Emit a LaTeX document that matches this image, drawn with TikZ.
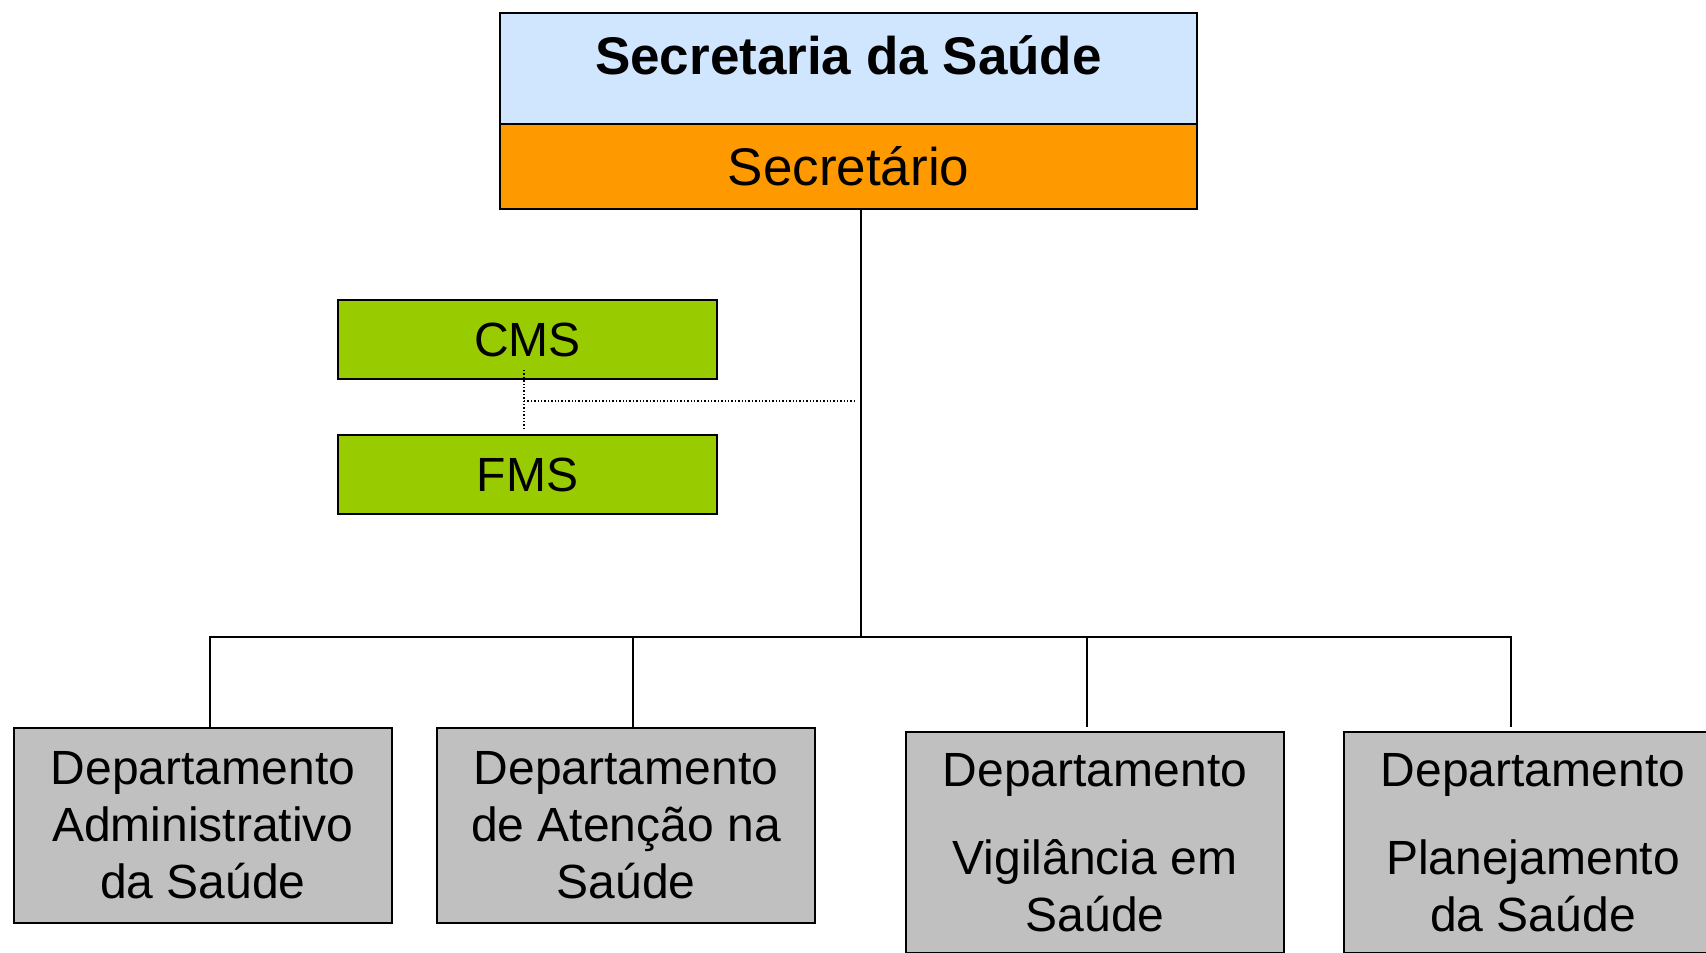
\documentclass[tikz,border=0pt]{standalone}
\usepackage{fontspec}
\setmainfont{Liberation Sans}
\usetikzlibrary{positioning}
\definecolor{azul}{HTML}{D0E6FF}
\definecolor{laranja}{HTML}{FF9900}
\definecolor{verde}{HTML}{99CC00}
\definecolor{cinza}{HTML}{C0C0C0}

\begin{document}
\begin{tikzpicture}[x=0.5pt,y=-0.5pt,on grid,
 caixa/.style={draw,line width=0.8pt,inner sep=0pt,outer sep=0pt,align=center},
 depto/.style={caixa,fill=cinza,minimum width=189pt,font=\fontsize{24}{28.5}\selectfont},
 conselho/.style={caixa,fill=verde,minimum width=189.5pt,minimum height=39.5pt,font=\fontsize{24}{28.5}\selectfont},
 linha/.style={line width=1pt},
 pontilhado/.style={line width=0.7pt,densely dotted}]
 \clip (0,0) rectangle (1706,952);
 % topo
 \node[caixa,fill=azul,minimum width=348.5pt,minimum height=55.5pt] (secretaria) at (848.5,68.5) {};
 \node[font=\bfseries\fontsize{26.5}{32}\selectfont] (titulo) at (848.5,55.5) {Secretaria da Saúde};
 \node[caixa,fill=laranja,minimum width=348.5pt,minimum height=42.5pt,font=\fontsize{26.5}{32}\selectfont] (secretario) at (848.5,166.5) {Secretário};
 % conselho e fundo
 \node[conselho] (cms) at (527.5,339.5) {CMS};
 \node[conselho] (fms) [below=67.5pt of cms] {FMS};
 % departamentos
 \node[depto,minimum height=97.5pt] (adm) at (203,825.5) {Departamento\\Administrativo\\da Saúde};
 \node[depto,minimum height=97.5pt] (atencao) [right=211.5pt of adm] {Departamento\\de Atenção na\\Saúde};
 \node[depto,minimum height=110.5pt] (vigilancia) at (1095,842.5) {Departamento\\[15.5pt]Vigilância em\\Saúde};
 \node[depto,minimum height=110.5pt] (planej) [right=219pt of vigilancia] {Departamento\\[15.5pt]Planejamento\\da Saúde};
 % ligacoes
 \coordinate (barra) at (861,637);
 \coordinate (d1) at (210,727);
 \coordinate (d2) at (633,727);
 \coordinate (d3) at (1087,727);
 \coordinate (d4) at (1511,727);
 \coordinate (junc) at (524,401);
 \draw[linha] (secretario.south -| barra) -- (barra);
 \draw[linha] (d1) |- (barra) -| (d4);
 \draw[linha] (d2) -- (d2 |- barra);
 \draw[linha] (d3) -- (d3 |- barra);
 \draw[pontilhado] ([xshift=-1.75pt,yshift=4.5pt]cms.south) -- ([xshift=-1.75pt,yshift=2pt]fms.north);
 \draw[pontilhado] (junc) -- ([xshift=-2pt]barra |- junc);
\end{tikzpicture}
\end{document}
